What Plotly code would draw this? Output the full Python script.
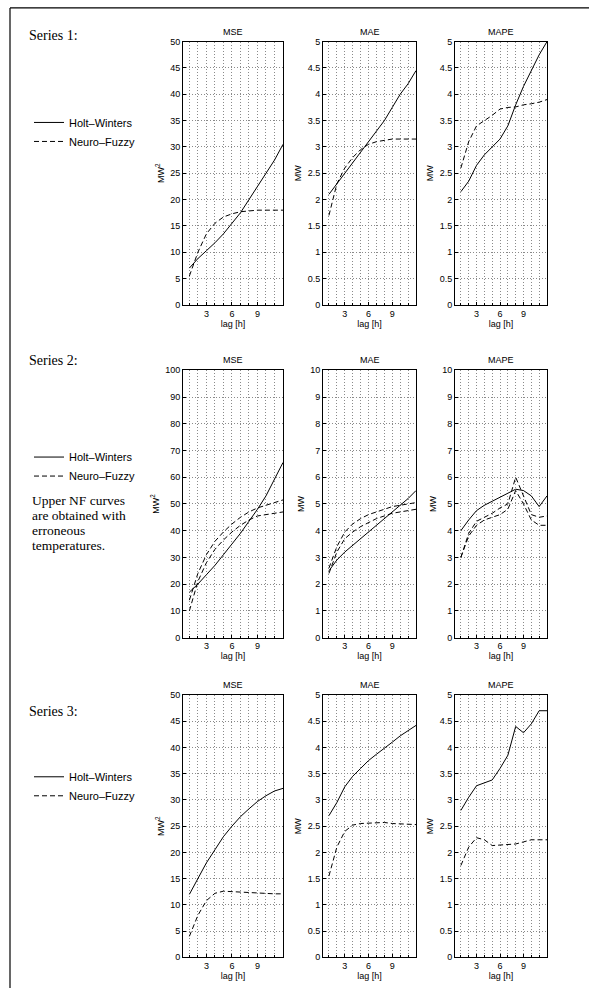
import plotly.graph_objects as go

W, H = 589, 993
lags = list(range(1, 13))

# ---- Series 1 ----
s1_mse_hw = [7.0, 8.8, 10.3, 11.8, 13.5, 15.5, 17.5, 20.0, 22.5, 25.0, 27.5, 30.5]
s1_mse_nf = [5.5, 10.0, 13.5, 15.5, 16.7, 17.3, 17.7, 17.9, 18.0, 18.0, 18.0, 18.0]
s1_mae_hw = [2.1, 2.3, 2.5, 2.7, 2.9, 3.1, 3.3, 3.5, 3.75, 4.0, 4.2, 4.45]
s1_mae_nf = [1.7, 2.3, 2.6, 2.8, 2.95, 3.05, 3.1, 3.13, 3.15, 3.15, 3.15, 3.15]
s1_mape_hw = [2.15, 2.35, 2.65, 2.85, 3.0, 3.15, 3.4, 3.8, 4.15, 4.45, 4.75, 5.0]
s1_mape_nf = [2.6, 3.1, 3.4, 3.5, 3.6, 3.72, 3.75, 3.76, 3.8, 3.82, 3.85, 3.9]

# ---- Series 2 ----
s2_mse_hw = [17, 20, 23.5, 27, 31, 35, 39, 43.5, 48, 53, 59, 65.5]
s2_mse_nf = [10, 21, 28, 33, 36.5, 39.5, 42, 44, 45.5, 46, 46.5, 47]
s2_mse_nf_err = [14, 24, 31, 36, 39.5, 42.5, 45, 47, 48.5, 49.5, 50.5, 51.5]
s2_mae_hw = [2.5, 2.9, 3.2, 3.45, 3.7, 3.95, 4.2, 4.45, 4.7, 4.95, 5.2, 5.5]
s2_mae_nf = [2.4, 3.2, 3.7, 3.95, 4.15, 4.3, 4.45, 4.55, 4.65, 4.7, 4.75, 4.8]
s2_mae_nf_err = [2.6, 3.4, 3.95, 4.25, 4.45, 4.6, 4.7, 4.8, 4.9, 4.95, 5.0, 5.05]
s2_mape_hw = [4.0, 4.4, 4.75, 4.95, 5.1, 5.25, 5.4, 5.55, 5.5, 5.3, 4.9, 5.3]
s2_mape_nf = [3.0, 3.8, 4.2, 4.4, 4.5, 4.6, 4.8, 5.5, 5.0, 4.4, 4.2, 4.2]
s2_mape_nf_err = [3.0, 3.9, 4.35, 4.5, 4.65, 4.85, 5.0, 6.0, 5.3, 4.6, 4.5, 4.55]

# ---- Series 3 ----
s3_mse_hw = [12, 15, 18, 20.5, 23, 25, 26.8, 28.3, 29.7, 30.8, 31.7, 32.2]
s3_mse_nf = [4, 8, 10.8, 12.2, 12.6, 12.5, 12.4, 12.3, 12.2, 12.1, 12.1, 12.1]
s3_mae_hw = [2.7, 2.95, 3.25, 3.45, 3.6, 3.75, 3.87, 3.98, 4.1, 4.22, 4.32, 4.42]
s3_mae_nf = [1.55, 2.1, 2.4, 2.52, 2.55, 2.56, 2.57, 2.57, 2.55, 2.54, 2.53, 2.53]
s3_mape_hw = [2.8, 3.05, 3.27, 3.32, 3.38, 3.6, 3.85, 4.4, 4.28, 4.45, 4.7, 4.7]
s3_mape_nf = [1.75, 2.1, 2.28, 2.24, 2.13, 2.14, 2.15, 2.16, 2.2, 2.24, 2.24, 2.24]

metric_titles = ["MSE", "MAE", "MAPE"]
y_titles = ["MW<sup>2</sup>", "MW", "MW"]
series_labels = ["Series 1:", "Series 2:", "Series 3:"]
x_ticks = [3, 6, 9]
note_lines = ["Upper NF curves", "are obtained with", "erroneous", "temperatures."]

panels = [
    # (row, col, hw, [nf curves], ymax, dtick)
    (0, 0, s1_mse_hw, [s1_mse_nf], 50, 5),
    (0, 1, s1_mae_hw, [s1_mae_nf], 5, 0.5),
    (0, 2, s1_mape_hw, [s1_mape_nf], 5, 0.5),
    (1, 0, s2_mse_hw, [s2_mse_nf, s2_mse_nf_err], 100, 10),
    (1, 1, s2_mae_hw, [s2_mae_nf, s2_mae_nf_err], 10, 1),
    (1, 2, s2_mape_hw, [s2_mape_nf, s2_mape_nf_err], 10, 1),
    (2, 0, s3_mse_hw, [s3_mse_nf], 50, 5),
    (2, 1, s3_mae_hw, [s3_mae_nf], 5, 0.5),
    (2, 2, s3_mape_hw, [s3_mape_nf], 5, 0.5),
]

cols_px = [(183, 283), (323, 416), (455, 547)]
rows_px = [(37, 303), (369, 639), (697, 962)]

fig = go.Figure()
tickfont = dict(family="Liberation Sans, Arial, sans-serif", size=9, color="black")
legend_names = ["legend", "legend2", "legend3"]

for i, (r, c, hw, nfs, ymax, dt) in enumerate(panels):
    k = i + 1
    xa = "x" if k == 1 else f"x{k}"
    ya = "y" if k == 1 else f"y{k}"
    leg = legend_names[r]
    fig.add_trace(go.Scatter(x=lags, y=hw, mode="lines", xaxis=xa, yaxis=ya,
                             line=dict(color="black", width=1),
                             name="Holt–Winters", legend=leg, showlegend=(c == 0)))
    for j, nf in enumerate(nfs):
        fig.add_trace(go.Scatter(x=lags, y=nf, mode="lines", xaxis=xa, yaxis=ya,
                                 line=dict(color="black", width=1, dash="5px,3px"),
                                 name="Neuro–Fuzzy", legend=leg,
                                 showlegend=(c == 0 and j == 0)))
    x0, x1 = cols_px[c]
    t, b = rows_px[r]
    axkw = dict(showline=True, linecolor="black", linewidth=1, mirror=True,
                ticks="inside", ticklen=3, tickcolor="black", tickfont=tickfont,
                showgrid=True, gridcolor="#8a8a8a", gridwidth=1, griddash="1px,2px",
                zeroline=False)
    fig.layout[("xaxis" if k == 1 else f"xaxis{k}")] = dict(
        domain=[x0 / W, x1 / W], anchor=ya, range=[0.25, 12],
        tickvals=x_ticks,
        minor=dict(tickvals=lags, ticks="inside", ticklen=2, tickcolor="black",
                   showgrid=True, gridcolor="#8a8a8a", gridwidth=1, griddash="1px,2px"),
        title=dict(text="lag [h]", font=tickfont, standoff=2),
        **axkw)
    fig.layout[("yaxis" if k == 1 else f"yaxis{k}")] = dict(
        domain=[1 - b / H, 1 - t / H], anchor=xa, range=[0, ymax], dtick=dt,
        title=dict(text=y_titles[c], font=tickfont, standoff=4),
        **axkw)
    fig.add_annotation(text=metric_titles[c], xref="paper", yref="paper",
                       x=(x0 + x1) / 2 / W, y=1 - (t - 3) / H, xanchor="center",
                       yanchor="bottom", showarrow=False, font=tickfont)

serif = dict(family="Liberation Serif, Times New Roman, serif", size=14, color="black")
label_y = [31, 359, 714]
for r in range(3):
    fig.add_annotation(text=series_labels[r], xref="paper", yref="paper",
                       x=27 / W, y=1 - label_y[r] / H, xanchor="left", yanchor="middle",
                       showarrow=False, font=serif)

note_font = dict(family="Liberation Serif, Times New Roman, serif", size=13.5, color="black")
note_y0, note_dy = 501, 15
for n, line in enumerate(note_lines):
    fig.add_annotation(text=line, xref="paper", yref="paper", x=30 / W,
                       y=1 - (note_y0 + n * note_dy) / H, xanchor="left", yanchor="middle",
                       align="left", showarrow=False, font=note_font)

legfont = dict(family="Liberation Sans, Arial, sans-serif", size=11, color="black")
leg_top = [104, 442, 765]
for r, name in enumerate(legend_names):
    fig.layout[name] = dict(x=29 / W, y=1 - leg_top[r] / H, xanchor="left", yanchor="top",
                            font=legfont, bgcolor="rgba(0,0,0,0)", borderwidth=0,
                            itemwidth=30, tracegroupgap=0)

# page frame
fig.add_shape(type="line", xref="paper", yref="paper", x0=10 / W, x1=10 / W,
              y0=0, y1=1 - 3 / H, line=dict(color="black", width=1.2))
fig.add_shape(type="line", xref="paper", yref="paper", x0=10 / W, x1=1,
              y0=1 - 3 / H, y1=1 - 3 / H, line=dict(color="black", width=1.2))

fig.update_layout(width=W, height=H, margin=dict(l=0, r=0, t=0, b=0),
                  paper_bgcolor="white", plot_bgcolor="white", showlegend=True)

fig.write_html("out.html")
